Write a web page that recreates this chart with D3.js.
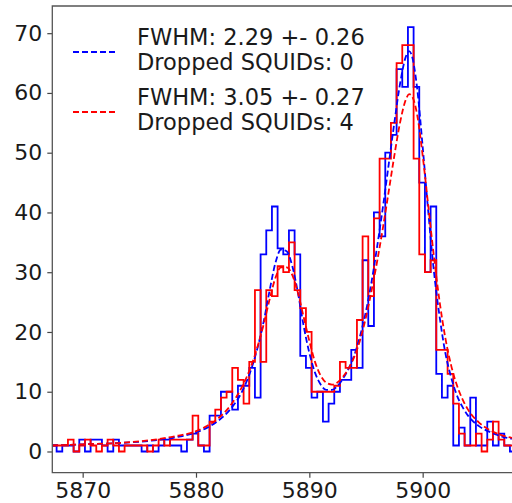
<!DOCTYPE html>
<html>
<head>
<meta charset="utf-8">
<script src="https://cdn.jsdelivr.net/npm/d3@7"></script>
<style>
  html, body { margin: 0; padding: 0; background: #fff; }
  svg { display: block; }
  text { font-family: "DejaVu Sans", sans-serif; fill: #1a1a1a; }
</style>
</head>
<body>
<svg id="chart" width="512" height="503"></svg>
<script>
// Histogram bins: 0.5 eV wide, starting at 5867.2 eV
const binStart = 5867.2;
const binWidth = 0.5;

// Counts per bin, all SQUIDs read out
const countsAll = [
  1, 0, 1, 1, 0, 2, 0, 2, 2, 1,
  0, 2, 1, 1, 1, 1, 0, 1, 0, 1,
  2, 1, 1, 0, 2, 3, 1, 0, 6, 6,
  10, 10, 7, 11, 11, 14, 9, 33, 37, 41,
  34, 33, 37, 33, 16, 14, 9, 10, 5, 8,
  10, 12, 12, 17, 14, 32, 21, 40, 36, 50,
  53, 64, 61, 71, 61, 45, 30, 41, 13, 9,
  11, 1, 4, 1, 9, 1, 1, 5, 1, 3,
  1, 0
];

// Counts per bin, four SQUIDs dropped
const countsDropped = [
  1, 1, 1, 2, 0, 1, 2, 1, 0, 1,
  2, 1, 0, 1, 1, 1, 1, 0, 1, 2,
  1, 2, 2, 2, 2, 6, 1, 1, 5, 7,
  9, 10, 14, 12, 8, 15, 27, 15, 27, 26,
  31, 30, 35, 27, 24, 20, 10, 10, 10, 10,
  11, 15, 14, 14, 22, 36, 26, 39, 49, 49,
  55, 65, 68, 68, 49, 33, 30, 32, 17, 17,
  13, 8, 3, 1, 1, 3, 0, 2, 5, 2,
  1, 1
];

// Fitted line profiles: energy (eV) and model counts
const fitEnergy = [
  5867.3, 5870, 5873, 5876, 5878, 5880, 5881, 5882, 5883, 5884,
  5885, 5886, 5886.5, 5887, 5887.5, 5888, 5888.5, 5889, 5889.5, 5890,
  5890.5, 5891, 5891.5, 5892, 5892.5, 5893, 5893.5, 5894, 5894.5, 5895,
  5895.5, 5896, 5896.5, 5897, 5897.5, 5898, 5898.5, 5898.8, 5899, 5899.5,
  5900, 5900.5, 5901, 5901.5, 5902, 5902.5, 5903, 5903.5, 5904, 5905,
  5906, 5907, 5908.5
];
const fitAll = [
  1.0, 1.2, 1.4, 1.8, 2.3, 3.2, 4.0, 5.2, 7.0, 9.8,
  14.5, 22, 27, 31.5, 33.8, 33.5, 31, 26.5, 21, 16.5,
  13.2, 11.2, 10.3, 10.3, 11, 12.3, 14, 16.3, 19.5, 23.5,
  28.5, 34.5, 41, 48, 55, 61.5, 66, 67, 66.5, 61,
  51, 40, 30, 22.5, 16.5, 12.5, 9.5, 7.5, 6, 4.2,
  3.2, 2.5, 2.0
];
const fitDropped = [
  1.0, 1.2, 1.4, 1.9, 2.5, 3.4, 4.3, 5.6, 7.6, 10.6,
  15, 21.5, 25.5, 29, 30.8, 30.8, 29.5, 26.5, 22.5, 18.5,
  15, 12.7, 11.5, 11.2, 11.6, 12.6, 14, 16, 18.8, 22.5,
  27, 32, 37.5, 43.5, 49.5, 55, 58.8, 59.8, 59.6, 56.5,
  49.5, 41, 32.5, 25, 19, 14.5, 11.2, 8.8, 7.0, 4.8,
  3.5, 2.7, 2.1
];

const xTicks = [5870, 5880, 5890, 5900];
const yTicks = [0, 10, 20, 30, 40, 50, 60, 70];

const legendLabels = [
  ["FWHM: 2.29 +- 0.26", "Dropped SQUIDs: 0"],
  ["FWHM: 3.05 +- 0.27", "Dropped SQUIDs: 4"]
];
const seriesColors = ["#0000ff", "#ff0000"];

// Plot frame (the right side runs past the visible area)
const frame = { left: 52.3, top: 6, right: 519, bottom: 472.7 };

const x = d3.scaleLinear().domain([5867.32, 5908.5]).range([frame.left, frame.right]);
const y = d3.scaleLinear().domain([-3.55, 74.55]).range([frame.bottom, frame.top]);

const svg = d3.select("#chart");

svg.append("defs").append("clipPath").attr("id", "plot-clip")
  .append("rect")
  .attr("x", frame.left).attr("y", frame.top)
  .attr("width", frame.right - frame.left).attr("height", frame.bottom - frame.top);

const plot = svg.append("g").attr("clip-path", "url(#plot-clip)");

// Step outline of a histogram, rising from and returning to zero
function stepPoints(counts) {
  const pts = [[binStart, 0]];
  counts.forEach((c, i) => {
    const x0 = binStart + i * binWidth;
    pts.push([x0, c], [x0 + binWidth, c]);
  });
  pts.push([binStart + counts.length * binWidth, 0]);
  return pts;
}

const line = d3.line().x(d => x(d[0])).y(d => y(d[1]));

[countsAll, countsDropped].forEach((counts, i) => {
  plot.append("path")
    .attr("d", line(stepPoints(counts)))
    .attr("fill", "none")
    .attr("stroke", seriesColors[i])
    .attr("stroke-width", 1.8)
    .attr("stroke-linejoin", "miter");
});

const fitLine = d3.line().curve(d3.curveMonotoneX).x(d => x(d[0])).y(d => y(d[1]));
[fitAll, fitDropped].forEach((fit, i) => {
  plot.append("path")
    .attr("d", fitLine(fitEnergy.map((e, j) => [e, fit[j]])))
    .attr("fill", "none")
    .attr("stroke", seriesColors[i])
    .attr("stroke-width", 1.8)
    .attr("stroke-dasharray", "6,3");
});

// Axes
const xAxis = svg.append("g")
  .attr("transform", `translate(0,${frame.bottom})`)
  .call(d3.axisBottom(x).tickValues(xTicks).tickFormat(d3.format("d")).tickSize(5).tickPadding(5).tickSizeOuter(0));
const yAxis = svg.append("g")
  .attr("transform", `translate(${frame.left},0)`)
  .call(d3.axisLeft(y).tickValues(yTicks).tickFormat(d3.format("d")).tickSize(5).tickPadding(5).tickSizeOuter(0));

[xAxis, yAxis].forEach(g => {
  g.select(".domain").remove();
  g.selectAll(".tick line").attr("stroke", "#444").attr("stroke-width", 1.2);
  g.selectAll(".tick text").style("font-size", "22px").attr("fill", "#1a1a1a");
});

// Frame spines
svg.append("path")
  .attr("d", `M${frame.right},${frame.top}H${frame.left}V${frame.bottom}H${frame.right}`)
  .attr("fill", "none")
  .attr("stroke", "#555")
  .attr("stroke-width", 1.3);

// Legend
const legend = svg.append("g");
const legendRows = [45, 105];
legendLabels.forEach((lines, i) => {
  const base = legendRows[i];
  legend.append("line")
    .attr("x1", 73).attr("x2", 118)
    .attr("y1", base + 7).attr("y2", base + 7)
    .attr("stroke", seriesColors[i])
    .attr("stroke-width", 1.8)
    .attr("stroke-dasharray", "6,3");
  lines.forEach((t, j) => {
    legend.append("text")
      .attr("x", 137)
      .attr("y", base + j * 25)
      .style("font-size", "22.5px")
      .text(t);
  });
});
</script>
</body>
</html>
